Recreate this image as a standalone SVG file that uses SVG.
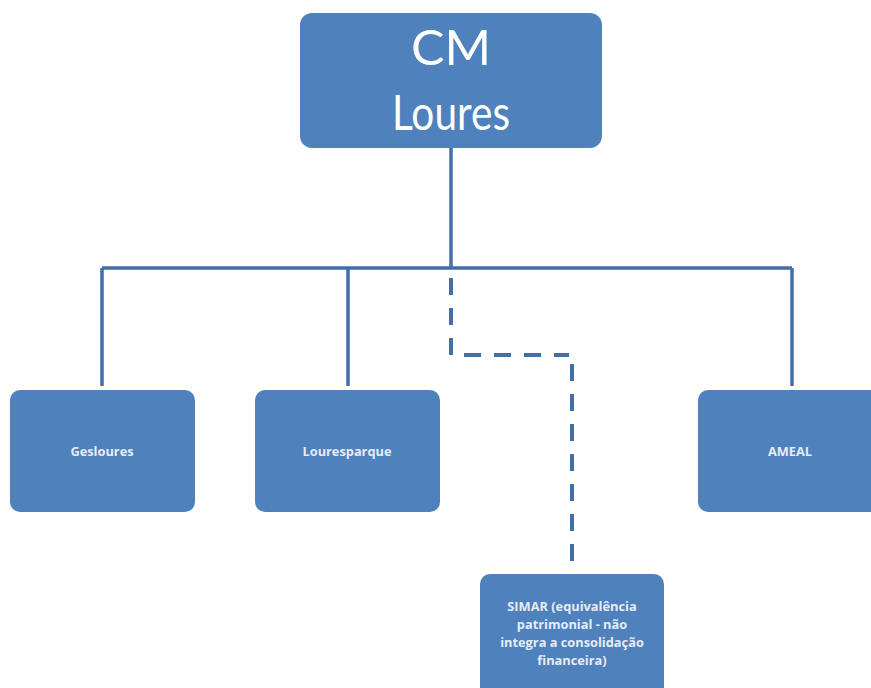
<svg xmlns="http://www.w3.org/2000/svg" width="871" height="688" viewBox="0 0 871 688">
<style>
.box{fill:#4f81bd;}
.big{fill:#ffffff;font-family:Lato,"Liberation Sans",sans-serif;font-size:48px;text-anchor:middle;}
.sm{fill:#e6ecf5;font-family:"Open Sans","Liberation Sans",sans-serif;font-size:12.8px;font-weight:bold;text-anchor:middle;}
.ln{stroke:#416fa8;stroke-width:3.5;fill:none;}
.dash{stroke:#416fa8;stroke-width:4;fill:none;stroke-dasharray:17 13;}
</style>
<rect width="871" height="688" fill="#ffffff"/>
<g id="connectors">
<path class="ln" d="M451 148 V268 M102 268 H792 M102 268 V386 M348 268 V386 M792 268 V386"/>
<path class="dash" d="M451 278 V355 H569 M572 364 V572"/>
</g>
<g id="cm-loures">
<rect class="box" x="300" y="13" width="302" height="135" rx="12"/>
<text class="big" x="451" y="65" textLength="80" lengthAdjust="spacingAndGlyphs">CM</text>
<text class="big" x="451" y="130" textLength="118" lengthAdjust="spacingAndGlyphs">Loures</text>
</g>
<g id="gesloures">
<rect class="box" x="10" y="390" width="185" height="122" rx="10"/>
<text class="sm" x="102" y="456">Gesloures</text>
</g>
<g id="louresparque">
<rect class="box" x="255" y="390" width="185" height="122" rx="10"/>
<text class="sm" x="347" y="456">Louresparque</text>
</g>
<g id="ameal">
<rect class="box" x="698" y="390" width="185" height="122" rx="10"/>
<text class="sm" x="790" y="456">AMEAL</text>
</g>
<g id="simar">
<rect class="box" x="480" y="574" width="184" height="130" rx="10"/>
<text class="sm" x="572" y="611">SIMAR (equivalência</text>
<text class="sm" x="572" y="629">patrimonial - não</text>
<text class="sm" x="572" y="647">integra a consolidação</text>
<text class="sm" x="572" y="665">financeira)</text>
</g>
</svg>
